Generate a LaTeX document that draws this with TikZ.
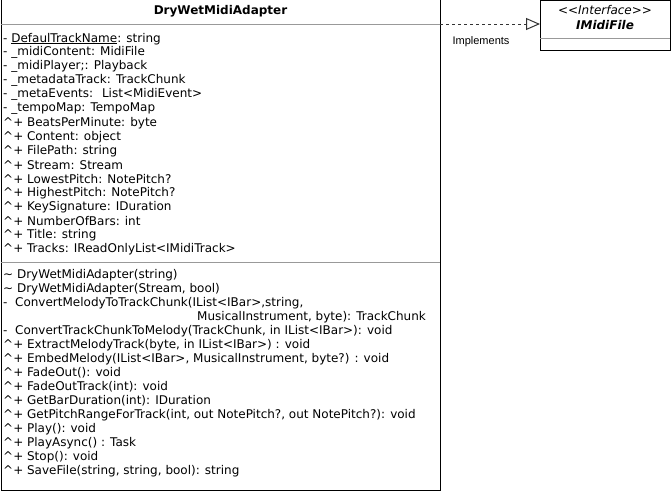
\documentclass[tikz,border=0pt]{standalone}
\usepackage{fontspec}
\setmainfont{DejaVu Sans}
\newfontfamily\clsfont{DejaVu Sans}
\newfontfamily\lblfont{Liberation Sans}
\usetikzlibrary{arrows.meta}
\begin{document}
\begin{tikzpicture}[x=1pt,y=-1pt,
  box/.style={draw=black, line width=1pt, fill=white, inner sep=0pt, outer sep=0pt, anchor=north west},
  sepline/.style={draw=black!40, line width=1pt},
  txt/.style={anchor=west, inner sep=0pt, font=\clsfont\fontsize{12}{14}\selectfont},
  title/.style={inner sep=0pt, font=\bfseries\fontsize{12}{14}\selectfont},
  realize/.style={dash pattern=on 3pt off 3pt, draw=black!80, line width=1pt, -{Triangle[open, length=14pt, width=12pt, line width=1pt]}}
]
\useasboundingbox (0,0) rectangle (671,491);
\node[box, minimum width=439pt, minimum height=491pt] (main) at (1,-1) {};
\node[box, minimum width=130pt, minimum height=49.5pt] (iface) at (540,0.5) {};
\coordinate (s1) at (0,24.5);
\coordinate (s2) at (0,262.5);
\coordinate (s3) at (0,38.5);
\coordinate (ay) at (0,24);
\draw[sepline] (main.west |- s1) -- (main.east |- s1);
\draw[sepline] (main.west |- s2) -- (main.east |- s2);
\draw[sepline] (iface.west |- s3) -- (iface.east |- s3);
\node[title] (ttl) at (220.5,11.5) {DryWetMidiAdapter};
\node[inner sep=0pt, font=\itshape\fontsize{12}{14}\selectfont] (ster) at (605,10.5) {<{}<Interface>{}>};
\node[inner sep=0pt, font=\bfseries\itshape\fontsize{12}{14}\selectfont] (iname) at (605,25) {IMidiFile};
\draw[realize] (main.east |- ay) -- (iface.west |- ay);
\node[inner sep=0pt, font=\lblfont\fontsize{11}{13}\selectfont] (impl) at (481,42) {Implements};
% attributes
\node[txt] (a1) at (3,38.8) {- \underline{DefaulTrackName}: string};
\node[txt] (a2) at (3,52.8) {- \_midiContent: MidiFile};
\node[txt] (a3) at (3,66.8) {- \_midiPlayer;: Playback};
\node[txt] (a4) at (3,80.8) {- \_metadataTrack: TrackChunk};
\node[txt] (a5) at (3,94.8) {- \_metaEvents: \ List<MidiEvent>};
\node[txt] (a6) at (3,108.8) {- \_tempoMap: TempoMap};
\node[txt] (a7) at (3,122.8) {\textasciicircum+ BeatsPerMinute: byte};
\node[txt] (a8) at (3,136.8) {\textasciicircum+ Content: object};
\node[txt] (a9) at (3,150.8) {\textasciicircum+ FilePath: string};
\node[txt] (a10) at (3,164.8) {\textasciicircum+ Stream: Stream};
\node[txt] (a11) at (3,178.8) {\textasciicircum+ LowestPitch: NotePitch?};
\node[txt] (a12) at (3,192.8) {\textasciicircum+ HighestPitch: NotePitch?};
\node[txt] (a13) at (3,206.8) {\textasciicircum+ KeySignature: IDuration};
\node[txt] (a14) at (3,220.8) {\textasciicircum+ NumberOfBars: int};
\node[txt] (a15) at (3,234.8) {\textasciicircum+ Title: string};
\node[txt] (a16) at (3,248.8) {\textasciicircum+ Tracks: IReadOnlyList<IMidiTrack>};
% methods
\node[txt] (m1) at (3,274.8) {\textasciitilde\ DryWetMidiAdapter(string)};
\node[txt] (m2) at (3,288.8) {\textasciitilde\ DryWetMidiAdapter(Stream, bool)};
\node[txt] (m3) at (3,302.8) {- \ ConvertMelodyToTrackChunk(IList<IBar>,string,};
\node[txt] (m3b) at (197,316.8) {MusicalInstrument, byte): TrackChunk};
\node[txt] (m4) at (3,330.8) {- \ ConvertTrackChunkToMelody(TrackChunk, in IList<IBar>): void};
\node[txt] (m5) at (3,344.8) {\textasciicircum+ ExtractMelodyTrack(byte, in IList<IBar>) : void};
\node[txt] (m6) at (3,358.8) {\textasciicircum+ EmbedMelody(IList<IBar>, MusicalInstrument, byte?) : void};
\node[txt] (m7) at (3,372.8) {\textasciicircum+ FadeOut(): void};
\node[txt] (m8) at (3,386.8) {\textasciicircum+ FadeOutTrack(int): void};
\node[txt] (m9) at (3,400.8) {\textasciicircum+ GetBarDuration(int): IDuration};
\node[txt] (m10) at (3,414.8) {\textasciicircum+ GetPitchRangeForTrack(int, out NotePitch?, out NotePitch?): void};
\node[txt] (m11) at (3,428.8) {\textasciicircum+ Play(): void};
\node[txt] (m12) at (3,442.8) {\textasciicircum+ PlayAsync() : Task};
\node[txt] (m13) at (3,456.8) {\textasciicircum+ Stop(): void};
\node[txt] (m14) at (3,470.8) {\textasciicircum+ SaveFile(string, string, bool): string};
\end{tikzpicture}
\end{document}
